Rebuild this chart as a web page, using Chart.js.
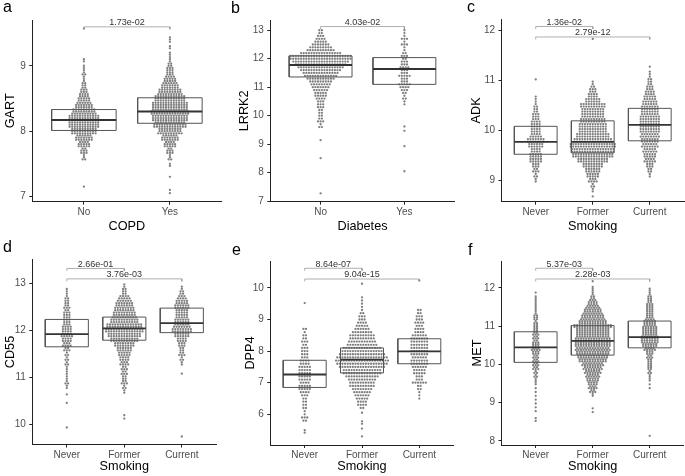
<!DOCTYPE html>
<html><head><meta charset="utf-8">
<script src="https://cdn.jsdelivr.net/npm/chart.js@4/dist/chart.umd.min.js"></script>
<style>
html,body{margin:0;padding:0;background:#fff;}
#wrap{position:relative;width:685px;height:476px;overflow:hidden;background:#fff;}
#wrap canvas{position:absolute;}
.lt{position:absolute;font-family:'Liberation Sans',Arial,sans-serif;font-size:16px;line-height:16px;color:#000;}
</style></head>
<body><div id="wrap"></div>
<script>
// ---------------- DATA ----------------
const copdCategories = ['No', 'Yes'];
const diabetesCategories = ['No', 'Yes'];
const smokingCategories = ['Never', 'Former', 'Current'];

// a: GART by COPD
const gartQ1 = [8.01, 8.12];
const gartMedian = [8.17, 8.30];
const gartQ3 = [8.33, 8.51];
const gartNoBinStart = 7.6;
const gartNoCounts = [4, 8, 14, 20, 30, 36, 36, 28, 20, 14, 10, 6, 3, 4, 2, 2];
const gartNoOutliers = [9.57, 7.15];
const gartYesBinStart = 7.5;
const gartYesCounts = [2, 4, 8, 14, 20, 28, 38, 42, 44, 42, 36, 28, 20, 14, 9, 7, 3, 2, 2, 3];
const gartYesOutliers = [7.30, 7.10, 7.05];
const gartPValues = ['1.73e-02'];
const gartBracketY = [9.595];

// b: LRRK2 by Diabetes
const lrrk2Q1 = [11.36, 11.10];
const lrrk2Median = [11.78, 11.64];
const lrrk2Q3 = [12.10, 12.04];
const lrrk2NoBinStart = 9.6;
const lrrk2NoCounts = [2, 1, 3, 2, 2, 2, 2, 3, 3, 3, 4, 5, 5, 6, 7, 8, 9, 11, 13, 14, 16, 18, 20, 22, 24, 24, 16, 11, 9, 7, 5, 4, 3, 2, 2];
const lrrk2NoOutliers = [9.14, 8.51, 7.27];
const lrrk2YesBinStart = 10.4;
const lrrk2YesCounts = [1, 1, 2, 1, 2, 3, 4, 5, 3, 3, 5, 3, 3, 4, 3, 3, 2, 3, 2, 1, 1, 3, 1, 3, 1, 1, 1];
const lrrk2YesOutliers = [9.62, 9.47, 8.93, 8.05];
const lrrk2PValues = ['4.03e-02'];
const lrrk2BracketY = [13.13];

// c: ADK by Smoking
const adkQ1 = [9.52, 9.55, 9.79];
const adkMedian = [9.77, 9.77, 10.11];
const adkQ3 = [10.08, 10.19, 10.44];
const adkNeverBinStart = 9.0;
const adkNeverCounts = [2, 3, 5, 6, 10, 10, 8, 12, 14, 9, 8, 8, 7, 6, 4, 3, 2, 1];
const adkNeverOutliers = [11.02];
const adkFormerBinStart = 8.7;
const adkFormerCounts = [1, 2, 3, 7, 10, 12, 16, 24, 32, 34, 36, 30, 26, 22, 22, 20, 18, 18, 20, 12, 8, 6, 3, 1];
const adkFormerOutliers = [11.83];
const adkCurrentBinStart = 9.1;
const adkCurrentCounts = [2, 4, 6, 9, 10, 11, 13, 14, 15, 16, 16, 16, 15, 14, 13, 11, 9, 7, 5, 4, 2, 1, 1];
const adkCurrentOutliers = [];
const adkPValues = ['1.36e-02', '2.79e-12'];
const adkBracketY = [12.08, 11.87];

// d: CD55 by Smoking
const cd55Q1 = [11.65, 11.79, 11.95];
const cd55Median = [11.92, 12.04, 12.15];
const cd55Q3 = [12.23, 12.28, 12.47];
const cd55NeverBinStart = 10.8;
const cd55NeverCounts = [2, 3, 2, 2, 2, 3, 3, 3, 5, 7, 8, 9, 8, 7, 6, 6, 5, 5, 4, 3, 2, 1];
const cd55NeverOutliers = [10.64, 10.46, 9.94];
const cd55FormerBinStart = 10.7;
const cd55FormerCounts = [2, 3, 5, 4, 5, 5, 7, 8, 10, 12, 16, 22, 26, 30, 28, 22, 19, 17, 15, 13, 9, 4, 3, 1];
const cd55FormerOutliers = [10.20, 10.13];
const cd55CurrentBinStart = 11.3;
const cd55CurrentCounts = [2, 3, 5, 4, 6, 8, 12, 16, 13, 12, 10, 10, 12, 10, 7, 4, 2];
const cd55CurrentOutliers = [11.08, 9.75];
const cd55PValues = ['2.66e-01', '3.76e-03'];
const cd55BracketY = [13.31, 13.09];

// e: DPP4 by Smoking
const dpp4Q1 = [6.85, 7.31, 7.60];
const dpp4Median = [7.26, 7.73, 7.99];
const dpp4Q3 = [7.71, 8.10, 8.39];
const dpp4NeverBinStart = 5.8;
const dpp4NeverCounts = [2, 3, 1, 1, 2, 2, 2, 2, 3, 4, 5, 5, 4, 5, 5, 5, 5, 5, 4, 4, 3, 3, 3, 3, 2, 3, 2, 2, 1, 2];
const dpp4NeverOutliers = [9.52, 5.50, 5.42];
const dpp4FormerBinStart = 6.2;
const dpp4FormerCounts = [2, 4, 4, 5, 6, 7, 8, 10, 10, 11, 13, 15, 15, 18, 20, 21, 20, 18, 16, 15, 12, 11, 10, 10, 8, 6, 5, 4, 3, 3, 2, 1, 1, 1, 1, 1];
const dpp4FormerOutliers = [10.13, 6.05, 5.78, 5.70, 5.55, 5.30];
const dpp4CurrentBinStart = 6.5;
const dpp4CurrentCounts = [1, 1, 1, 2, 2, 6, 3, 3, 5, 5, 6, 7, 7, 6, 7, 7, 7, 7, 7, 7, 6, 4, 4, 3, 4, 3, 3, 2, 2];
const dpp4CurrentOutliers = [10.24];
const dpp4PValues = ['8.64e-07', '9.04e-15'];
const dpp4BracketY = [10.62, 10.28];

// f: MET by Smoking
const metQ1 = [10.05, 10.24, 10.43];
const metMedian = [10.44, 10.61, 10.71];
const metQ3 = [10.85, 11.01, 11.13];
const metNeverBinStart = 8.8;
const metNeverCounts = [1, 1, 1, 1, 1, 1, 1, 2, 2, 3, 3, 5, 5, 5, 5, 6, 7, 6, 5, 5, 5, 4, 4, 3, 4, 3, 2, 2, 2, 2, 1, 1];
const metNeverOutliers = [8.59, 8.52];
const metFormerBinStart = 9.2;
const metFormerCounts = [2, 5, 7, 8, 10, 11, 13, 15, 17, 22, 24, 26, 27, 28, 28, 27, 26, 26, 30, 22, 19, 17, 14, 11, 8, 5, 3, 2, 2];
const metFormerOutliers = [12.17, 8.85, 8.75];
const metCurrentBinStart = 9.4;
const metCurrentCounts = [1, 1, 2, 2, 3, 4, 4, 4, 5, 6, 9, 12, 14, 14, 12, 12, 11, 10, 7, 6, 6, 6, 5, 4, 3, 2, 1];
const metCurrentOutliers = [8.13];
const metPValues = ['5.37e-03', '2.28e-03'];
const metBracketY = [12.51, 12.23];

const binWidth = 0.1;

// ---------------- LAYOUT / STYLE ----------------
const FONT = "'Liberation Sans', Arial, Helvetica, sans-serif";
const BOX_WIDTH = 0.75;
const DOT_GAP_PX = 2.6;
const ROW_GAP_PX = 2.4;
const TIP_PX = 2.5;

const panels = [
  { letter: 'a', lx: 3, ly: 12, cats: copdCategories, xTitle: 'COPD', yTitle: 'GART',
    q1: gartQ1, med: gartMedian, q3: gartQ3,
    groups: [[gartNoBinStart, gartNoCounts, gartNoOutliers], [gartYesBinStart, gartYesCounts, gartYesOutliers]],
    brackets: [[1, 2, gartBracketY[0], gartPValues[0]]],
    c: { left: 0, top: 0, w: 228, h: 236 }, padTop: 20, padRight: 6.5, yAxisW: 32.3, xAxisH: 34.3,
    yMin: 6.92, yMax: 9.70, yTitlePad: 2.9, xTitlePad: 2.1 },
  { letter: 'b', lx: 231, ly: 13, cats: diabetesCategories, xTitle: 'Diabetes', yTitle: 'LRRK2',
    q1: lrrk2Q1, med: lrrk2Median, q3: lrrk2Q3,
    groups: [[lrrk2NoBinStart, lrrk2NoCounts, lrrk2NoOutliers], [lrrk2YesBinStart, lrrk2YesCounts, lrrk2YesOutliers]],
    brackets: [[1, 2, lrrk2BracketY[0], lrrk2PValues[0]]],
    c: { left: 228, top: 0, w: 228, h: 236 }, padTop: 20, padRight: 1.3, yAxisW: 42.3, xAxisH: 34.3,
    yMin: 6.98, yMax: 13.36, yTitlePad: 9, xTitlePad: 2.1 },
  { letter: 'c', lx: 467, ly: 12, cats: smokingCategories, xTitle: 'Smoking', yTitle: 'ADK',
    q1: adkQ1, med: adkMedian, q3: adkQ3,
    groups: [[adkNeverBinStart, adkNeverCounts, adkNeverOutliers], [adkFormerBinStart, adkFormerCounts, adkFormerOutliers], [adkCurrentBinStart, adkCurrentCounts, adkCurrentOutliers]],
    brackets: [[1, 2, adkBracketY[0], adkPValues[0]], [1, 3, adkBracketY[1], adkPValues[1]]],
    c: { left: 456, top: 0, w: 229, h: 236 }, padTop: 19, padRight: 1, yAxisW: 45.5, xAxisH: 34.3,
    yMin: 8.57, yMax: 12.23, yTitlePad: 12.7, xTitlePad: 2.1 },
  { letter: 'd', lx: 3, ly: 252, cats: smokingCategories, xTitle: 'Smoking', yTitle: 'CD55',
    q1: cd55Q1, med: cd55Median, q3: cd55Q3,
    groups: [[cd55NeverBinStart, cd55NeverCounts, cd55NeverOutliers], [cd55FormerBinStart, cd55FormerCounts, cd55FormerOutliers], [cd55CurrentBinStart, cd55CurrentCounts, cd55CurrentOutliers]],
    brackets: [[1, 2, cd55BracketY[0], cd55PValues[0]], [1, 3, cd55BracketY[1], cd55PValues[1]]],
    c: { left: 0, top: 236, w: 228, h: 240 }, padTop: 23.5, padRight: 11.7, yAxisW: 32.3, xAxisH: 31.5,
    yMin: 9.58, yMax: 13.5, yTitlePad: 3.2, xTitlePad: 1.9 },
  { letter: 'e', lx: 232, ly: 255, cats: smokingCategories, xTitle: 'Smoking', yTitle: 'DPP4',
    q1: dpp4Q1, med: dpp4Median, q3: dpp4Q3,
    groups: [[dpp4NeverBinStart, dpp4NeverCounts, dpp4NeverOutliers], [dpp4FormerBinStart, dpp4FormerCounts, dpp4FormerOutliers], [dpp4CurrentBinStart, dpp4CurrentCounts, dpp4CurrentOutliers]],
    brackets: [[1, 2, dpp4BracketY[0], dpp4PValues[0]], [1, 3, dpp4BracketY[1], dpp4PValues[1]]],
    c: { left: 228, top: 236, w: 228, h: 240 }, padTop: 25, padRight: 2.3, yAxisW: 42.3, xAxisH: 31,
    yMin: 5.03, yMax: 10.85, yTitlePad: 14.9, xTitlePad: 1.9 },
  { letter: 'f', lx: 468, ly: 255, cats: smokingCategories, xTitle: 'Smoking', yTitle: 'MET',
    q1: metQ1, med: metMedian, q3: metQ3,
    groups: [[metNeverBinStart, metNeverCounts, metNeverOutliers], [metFormerBinStart, metFormerCounts, metFormerOutliers], [metCurrentBinStart, metCurrentCounts, metCurrentOutliers]],
    brackets: [[1, 2, metBracketY[0], metPValues[0]], [1, 3, metBracketY[1], metPValues[1]]],
    c: { left: 456, top: 236, w: 229, h: 240 }, padTop: 25, padRight: 1.1, yAxisW: 45.5, xAxisH: 31,
    yMin: 7.89, yMax: 12.70, yTitlePad: 13.9, xTitlePad: 1.9 }
];

const bracketLabelPlugin = {
  id: 'bracketLabels',
  afterDatasetsDraw(chart, args, opts) {
    const ctx = chart.ctx, xs = chart.scales.x, ys = chart.scales.y;
    ctx.save();
    ctx.font = '9px ' + FONT;
    ctx.fillStyle = '#333';
    ctx.textAlign = 'center';
    ctx.textBaseline = 'alphabetic';
    (opts.items || []).forEach(b => {
      ctx.fillText(b[3], xs.getPixelForValue((b[0] + b[1]) / 2), ys.getPixelForValue(b[2]) - 1.6);
    });
    ctx.restore();
  }
};

function axisCommon() {
  return {
    grid: { display: true, drawOnChartArea: false, drawTicks: true, tickLength: 3, color: '#222', lineWidth: 1 },
    border: { display: true, color: '#222', width: 1 }
  };
}

const wrap = document.getElementById('wrap');

panels.forEach(p => {
  const cv = document.createElement('canvas');
  cv.width = p.c.w; cv.height = p.c.h;
  cv.style.left = p.c.left + 'px'; cv.style.top = p.c.top + 'px';
  cv.style.width = p.c.w + 'px'; cv.style.height = p.c.h + 'px';
  wrap.appendChild(cv);

  const lt = document.createElement('div');
  lt.className = 'lt';
  lt.textContent = p.letter;
  lt.style.left = p.lx + 'px';
  lt.style.top = (p.ly - 13.5) + 'px';
  wrap.appendChild(lt);

  const datasets = [];
  // points (filled after layout)
  datasets.push({ data: [], pointRadius: 1.15, pointBackgroundColor: 'rgba(120,120,120,0.95)', pointBorderWidth: 0, showLine: false, order: 3 });
  // boxes
  p.cats.forEach((c, i) => {
    const cx = i + 1, h = BOX_WIDTH / 2;
    datasets.push({ data: [
      { x: cx - h, y: p.q1[i] }, { x: cx + h, y: p.q1[i] }, { x: cx + h, y: p.q3[i] },
      { x: cx - h, y: p.q3[i] }, { x: cx - h, y: p.q1[i] }],
      showLine: true, borderColor: '#555', borderWidth: 1, pointRadius: 0, fill: false, tension: 0, order: 2 });
    datasets.push({ data: [{ x: cx - h, y: p.med[i] }, { x: cx + h, y: p.med[i] }],
      showLine: true, borderColor: '#333', borderWidth: 1.8, pointRadius: 0, fill: false, order: 1 });
  });
  // brackets (tips added after layout)
  const bracketStart = datasets.length;
  p.brackets.forEach(b => {
    datasets.push({ data: [], showLine: true, borderColor: '#9a9a9a', borderWidth: 0.8, pointRadius: 0, fill: false, order: 0 });
  });

  const common = axisCommon();
  const chart = new Chart(cv, {
    type: 'scatter',
    data: { datasets },
    plugins: [bracketLabelPlugin],
    options: {
      responsive: false, maintainAspectRatio: false, animation: false, devicePixelRatio: 1,
      layout: { autoPadding: false, padding: { top: p.padTop, right: p.padRight, left: 0, bottom: 0 } },
      plugins: { legend: { display: false }, tooltip: { enabled: false }, bracketLabels: { items: p.brackets } },
      events: [],
      scales: {
        x: {
          type: 'linear', min: 0.4, max: p.cats.length + 0.6,
          afterBuildTicks: s => { s.ticks = p.cats.map((c, i) => ({ value: i + 1 })); },
          ticks: { callback: v => p.cats[Math.round(v) - 1] || '', color: '#4d4d4d', font: { family: FONT, size: 10 }, padding: 1.5, maxRotation: 0, autoSkip: false },
          grid: common.grid, border: common.border,
          title: { display: true, text: p.xTitle, color: '#000', font: { family: FONT, size: 12.7 }, padding: { top: 0, bottom: p.xTitlePad } },
          afterFit: s => { s.height = p.xAxisH; }
        },
        y: {
          type: 'linear', min: p.yMin, max: p.yMax,
          afterBuildTicks: s => { const t = []; for (let v = Math.ceil(p.yMin); v <= Math.floor(p.yMax); v++) t.push({ value: v }); s.ticks = t; },
          ticks: { color: '#4d4d4d', font: { family: FONT, size: 10 }, padding: 3.5 },
          grid: common.grid, border: common.border,
          title: { display: true, text: p.yTitle, color: '#000', font: { family: FONT, size: 12.7 }, padding: { top: p.yTitlePad, bottom: 0 } },
          afterFit: s => { s.width = p.yAxisW; }
        }
      }
    }
  });

  // second phase: lay out beeswarm points and bracket tips with the scales
  const xs = chart.scales.x, ys = chart.scales.y;
  const pxX = Math.abs(xs.getPixelForValue(1) - xs.getPixelForValue(0));
  const pxY = Math.abs(ys.getPixelForValue(1) - ys.getPixelForValue(0));
  const rows = Math.max(1, Math.round(binWidth * pxY / ROW_GAP_PX));
  const dx = DOT_GAP_PX / pxX;
  const pts = [];
  p.groups.forEach((g, gi) => {
    const [start, counts, outliers] = g;
    const cx = gi + 1;
    counts.forEach((n, i) => {
      const center = start + i * binWidth;
      for (let r = 0; r < rows; r++) {
        const m = Math.floor(n / rows) + (r < n % rows ? 1 : 0);
        const y = center + (r - (rows - 1) / 2) * binWidth / rows;
        for (let j = 0; j < m; j++) pts.push({ x: cx + (j - (m - 1) / 2) * dx, y });
      }
    });
    outliers.forEach(v => pts.push({ x: cx, y: v }));
  });
  chart.data.datasets[0].data = pts;
  const tip = TIP_PX / pxY;
  p.brackets.forEach((b, k) => {
    chart.data.datasets[bracketStart + k].data = [
      { x: b[0], y: b[2] - tip }, { x: b[0], y: b[2] }, { x: b[1], y: b[2] }, { x: b[1], y: b[2] - tip }];
  });
  chart.update('none');
});
</script>
</body></html>
